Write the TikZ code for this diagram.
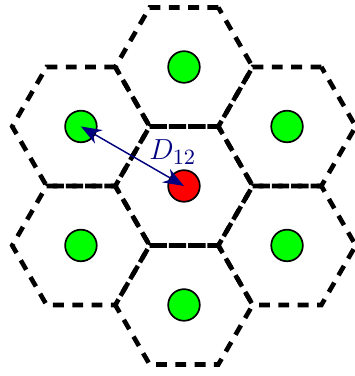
\documentclass[tikz,border=0pt]{standalone}
\usetikzlibrary{shapes.geometric,arrows.meta}
\begin{document}
\begin{tikzpicture}[
            cell/.style={
                    draw=black,
                    regular polygon,
                    regular polygon sides=6,
                    minimum size=2cm,
                    inner sep=0pt,
                    line width=1.9pt,
                    dash pattern=on 4.5pt off 3.5pt
                },
            user/.style={
                    circle,
                    draw=black,
                    fill=green,
                    minimum size=0.46cm,
                    inner sep=0pt,
                    line width=0.7pt
                },
            base/.style={
                    user,
                    fill=red
                },
            dist/.style={
            {Stealth[scale=1.5]}-{Stealth[scale=1.5]},
            color=blue!50!black,
            semithick
            },
            distLabel/.style={
                    font=\fontsize{13}{15}\selectfont,
                    color=blue!50!black
                }
            ]
            \useasboundingbox (-2.678,-2.766) rectangle (2.489,2.707);

            % Celda central con la estacion base
            \node[cell] (c0) at (0,0) {};
            \node[base] (b0) at (c0.center) {};

            % Anillo de seis celdas vecinas
            \foreach \i in {1,...,6} {
                \node[cell] (c\i) at ({30+60*(\i-1)}:1.732) {};
                \node[user] (u\i) at (c\i.center) {};
            }

            % Distancia entre centros
            \draw[dist] (u3.center) -- (b0.center) node[pos=0.66, above right=-1pt, xshift=-2.5pt, yshift=-2pt, distLabel] {$D_{12}$};

        \end{tikzpicture}
\end{document}
